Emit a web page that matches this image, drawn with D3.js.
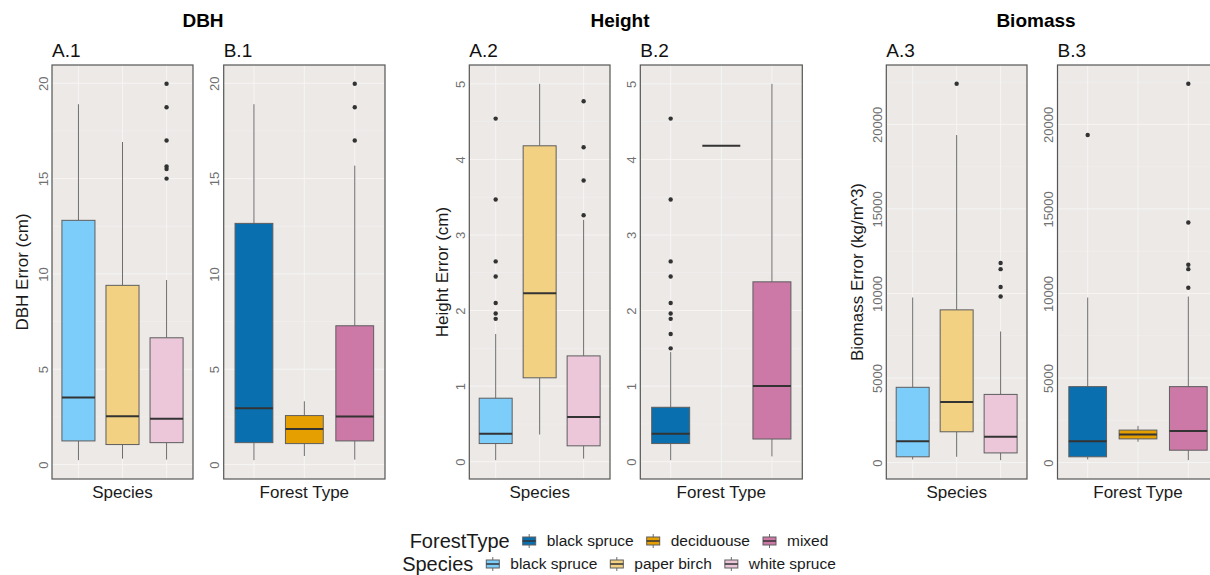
<!DOCTYPE html>
<html>
<head>
<meta charset="utf-8">
<script src="https://cdn.jsdelivr.net/npm/d3@7"></script>
<style>
  body { margin: 0; background: #fff; }
  text { font-family: "Liberation Sans", Arial, sans-serif; }
</style>
</head>
<body>
<div id="my_dataviz"></div>
<script>
// categories and colours
const speciesCats = ["black spruce", "paper birch", "white spruce"];
const forestCats = ["black spruce", "deciduouse", "mixed"];
const speciesColors = ["#7DCDFB", "#F2D182", "#EBC7D9"];
const forestColors = ["#0A6FAF", "#E69F00", "#CC79A7"];

// box stats per category: [lower whisker, Q1, median, Q3, upper whisker]
const dbhSpeciesBox = [[0.23, 1.24, 3.52, 12.81, 18.9], [0.31, 1.05, 2.54, 9.40, 16.92], [0.26, 1.15, 2.40, 6.65, 9.68]];
const dbhSpeciesOut = [[], [], [19.97, 18.74, 17.0, 15.63, 15.5, 15.0]];
const dbhForestBox = [[0.23, 1.15, 2.96, 12.65, 18.9], [0.45, 1.10, 1.87, 2.57, 3.32], [0.26, 1.24, 2.52, 7.28, 15.68]];
const dbhForestOut = [[], [], [19.97, 18.74, 17.0]];

const heightSpeciesBox = [[0.02, 0.24, 0.37, 0.84, 1.69], [0.36, 1.11, 2.23, 4.18, 5.0], [0.04, 0.21, 0.59, 1.40, 3.20]];
const heightSpeciesOut = [[4.54, 3.47, 2.65, 2.45, 2.10, 1.96, 1.89], [], [4.77, 4.16, 3.72, 3.26]];
const heightForestBox = [[0.02, 0.24, 0.37, 0.72, 1.45], [4.18, 4.18, 4.18, 4.18, 4.18], [0.07, 0.30, 1.00, 2.38, 5.0]];
const heightForestOut = [[4.54, 3.47, 2.65, 2.45, 2.10, 1.96, 1.89, 1.69, 1.50], [], []];

const biomassSpeciesBox = [[180, 340, 1260, 4450, 9760], [340, 1820, 3580, 9030, 19370], [140, 570, 1520, 4030, 7750]];
const biomassSpeciesOut = [[], [22400], [11800, 11440, 10380, 9820]];
const biomassForestBox = [[180, 340, 1260, 4490, 9760], [1230, 1400, 1660, 1920, 2170], [140, 730, 1860, 4490, 9820]];
const biomassForestOut = [[19370], [], [22400, 14200, 11700, 11440, 10340]];

// tick labels
const dbhTicks = [0, 5, 10, 15, 20];
const heightTicks = [0, 1, 2, 3, 4, 5];
const biomassTicks = [0, 5000, 10000, 15000, 20000];

const W = 1210, H = 575;
const panelTop = 65, panelBottom = 479;

const svg = d3.select("#my_dataviz")
  .append("svg")
    .attr("width", W)
    .attr("height", H);

// group titles
const titles = [["DBH", 203], ["Height", 620], ["Biomass", 1036]];
titles.forEach(t => {
  svg.append("text")
    .attr("x", t[1]).attr("y", 27)
    .attr("text-anchor", "middle")
    .attr("font-size", "19px")
    .attr("font-weight", "bold")
    .attr("fill", "#000")
    .text(t[0]);
});

const panels = [
  {name: "A.1", left: 52, right: 193, cats: speciesCats, colors: speciesColors, box: dbhSpeciesBox, out: dbhSpeciesOut, ticks: dbhTicks, xTitle: "Species", yTitle: "DBH Error (cm)", yTitleX: 22},
  {name: "B.1", left: 223.7, right: 385, cats: forestCats, colors: forestColors, box: dbhForestBox, out: dbhForestOut, ticks: dbhTicks, xTitle: "Forest Type"},
  {name: "A.2", left: 469.3, right: 610, cats: speciesCats, colors: speciesColors, box: heightSpeciesBox, out: heightSpeciesOut, ticks: heightTicks, xTitle: "Species", yTitle: "Height Error (cm)", yTitleX: 442},
  {name: "B.2", left: 640.3, right: 802.3, cats: forestCats, colors: forestColors, box: heightForestBox, out: heightForestOut, ticks: heightTicks, xTitle: "Forest Type"},
  {name: "A.3", left: 886.3, right: 1027, cats: speciesCats, colors: speciesColors, box: biomassSpeciesBox, out: biomassSpeciesOut, ticks: biomassTicks, xTitle: "Species", yTitle: "Biomass Error (kg/m^3)", yTitleX: 857},
  {name: "B.3", left: 1057.5, right: 1218.5, cats: forestCats, colors: forestColors, box: biomassForestBox, out: biomassForestOut, ticks: biomassTicks, xTitle: "Forest Type"}
];

panels.forEach(drawPanel);

function drawPanel(p) {
  const g = svg.append("g");

  // y domain like ggplot: data range + 5% each side
  const all = p.box.flat().concat(p.out.flat());
  const lo = d3.min(all), hi = d3.max(all), pad = (hi - lo) * 0.05;
  const y = d3.scaleLinear().domain([lo - pad, hi + pad]).range([panelBottom, panelTop]);
  const x = d3.scalePoint().domain(p.cats).range([p.left, p.right]).padding(0.6);
  const bw = x.step() * 0.75;

  // panel background
  g.append("rect")
    .attr("x", p.left).attr("y", panelTop)
    .attr("width", p.right - p.left).attr("height", panelBottom - panelTop)
    .attr("fill", "#ECE9E7");

  // minor grid
  const step = p.ticks[1] - p.ticks[0];
  const minor = d3.range(p.ticks[0] + step / 2, y.domain()[1], step);
  g.selectAll(".minor").data(minor).join("line")
    .attr("x1", p.left).attr("x2", p.right)
    .attr("y1", d => y(d)).attr("y2", d => y(d))
    .attr("stroke", "#F4F3F2").attr("stroke-width", 0.5);
  // major grid
  g.selectAll(".major").data(p.ticks).join("line")
    .attr("x1", p.left).attr("x2", p.right)
    .attr("y1", d => y(d)).attr("y2", d => y(d))
    .attr("stroke", "#F6F5F4").attr("stroke-width", 1);
  g.selectAll(".vgrid").data(p.cats).join("line")
    .attr("x1", d => x(d)).attr("x2", d => x(d))
    .attr("y1", panelTop).attr("y2", panelBottom)
    .attr("stroke", "#F6F5F4").attr("stroke-width", 1);

  // y axis tick labels (rotated)
  const yAxis = g.append("g")
    .attr("transform", `translate(${p.left},0)`)
    .call(d3.axisLeft(y).tickValues(p.ticks).tickSize(0).tickPadding(0).tickFormat(d3.format("d")));
  yAxis.select(".domain").remove();
  yAxis.selectAll("text")
    .attr("x", 0).attr("dy", null).attr("y", 0)
    .attr("transform", "translate(-4.5,0)rotate(-90)")
    .attr("text-anchor", "middle")
    .attr("font-size", "13px")
    .attr("font-family", "Liberation Sans, Arial, sans-serif")
    .attr("fill", "#707070");

  // boxes
  p.box.forEach((b, i) => {
    const cx = x(p.cats[i]);
    g.append("line")
      .attr("x1", cx).attr("x2", cx)
      .attr("y1", y(b[4])).attr("y2", y(b[3]))
      .attr("stroke", "#6E6E6E").attr("stroke-width", 1);
    g.append("line")
      .attr("x1", cx).attr("x2", cx)
      .attr("y1", y(b[1])).attr("y2", y(b[0]))
      .attr("stroke", "#6E6E6E").attr("stroke-width", 1);
    g.append("rect")
      .attr("x", cx - bw / 2).attr("y", y(b[3]))
      .attr("width", bw).attr("height", Math.max(0, y(b[1]) - y(b[3])))
      .attr("fill", p.colors[i])
      .attr("stroke", "#5E5E5E").attr("stroke-width", 1);
    g.append("line")
      .attr("x1", cx - bw / 2).attr("x2", cx + bw / 2)
      .attr("y1", y(b[2])).attr("y2", y(b[2]))
      .attr("stroke", "#333").attr("stroke-width", 2);
    g.selectAll(null).data(p.out[i]).join("circle")
      .attr("cx", cx).attr("cy", d => y(d))
      .attr("r", 2.2)
      .attr("fill", "#333");
  });

  // panel border
  g.append("rect")
    .attr("x", p.left).attr("y", panelTop)
    .attr("width", p.right - p.left).attr("height", panelBottom - panelTop)
    .attr("fill", "none")
    .attr("stroke", "#555").attr("stroke-width", 1.2);

  // panel tag
  g.append("text")
    .attr("x", p.left).attr("y", 57)
    .attr("font-size", "19px")
    .attr("fill", "#111")
    .text(p.name);

  // x title
  g.append("text")
    .attr("x", (p.left + p.right) / 2).attr("y", 498)
    .attr("text-anchor", "middle")
    .attr("font-size", "17px")
    .attr("fill", "#1a1a1a")
    .text(p.xTitle);

  // y title
  if (p.yTitle) {
    g.append("text")
      .attr("transform", `translate(${p.yTitleX},${(panelTop + panelBottom) / 2})rotate(-90)`)
      .attr("text-anchor", "middle")
      .attr("dy", "0.35em")
      .attr("font-size", "17px")
      .attr("fill", "#1a1a1a")
      .text(p.yTitle);
  }
}

// legend
const legendRows = [
  {title: "ForestType", labels: forestCats, colors: forestColors, cy: 541},
  {title: "Species", labels: speciesCats, colors: speciesColors, cy: 564}
];

legendRows.forEach(r => {
  const g = svg.append("g");
  let cx = 0;
  const t = g.append("text")
    .attr("x", cx).attr("y", r.cy).attr("dy", "0.35em")
    .attr("font-size", "20px").attr("fill", "#1a1a1a")
    .text(r.title);
  cx += t.node().getComputedTextLength() + 13;
  r.labels.forEach((lab, i) => {
    const k = g.append("g").attr("transform", `translate(${cx},${r.cy})`);
    k.append("line").attr("x1", 6.5).attr("x2", 6.5).attr("y1", -7).attr("y2", 7)
      .attr("stroke", "#6E6E6E").attr("stroke-width", 1);
    k.append("rect").attr("x", 0).attr("y", -4).attr("width", 13).attr("height", 8)
      .attr("fill", r.colors[i]).attr("stroke", "#5E5E5E").attr("stroke-width", 1);
    k.append("line").attr("x1", 0).attr("x2", 13).attr("y1", 0).attr("y2", 0)
      .attr("stroke", "#333").attr("stroke-width", 1.5);
    cx += 13 + 11;
    const lt = g.append("text")
      .attr("x", cx).attr("y", r.cy).attr("dy", "0.35em")
      .attr("font-size", "15.5px").attr("fill", "#1a1a1a")
      .text(lab);
    cx += lt.node().getComputedTextLength() + 13;
  });
  const total = cx - 13;
  g.attr("transform", `translate(${619 - total / 2},0)`);
});
</script>
</body>
</html>
